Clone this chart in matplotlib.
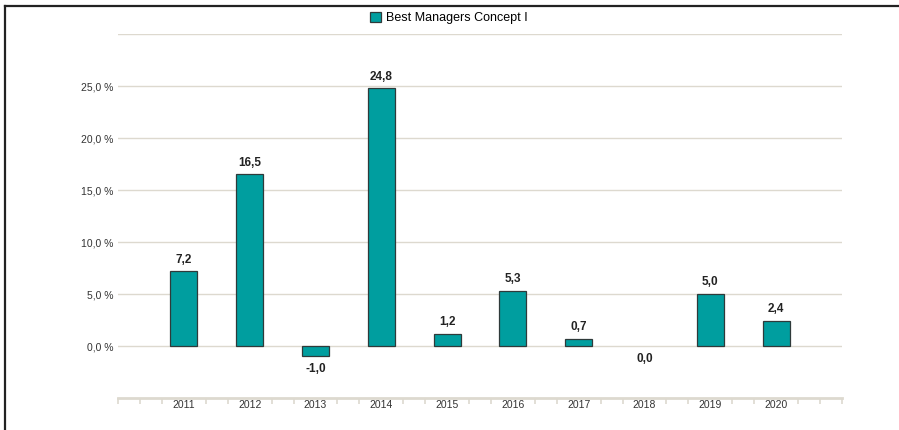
import matplotlib

matplotlib.use("Agg")
import matplotlib.pyplot as plt
from matplotlib.lines import Line2D
from matplotlib.patches import Patch

plt.rcParams["font.family"] = ["Liberation Sans", "DejaVu Sans"]

years = ["2011", "2012", "2013", "2014", "2015", "2016", "2017", "2018", "2019", "2020"]
returns = [7.2, 16.5, -1.0, 24.8, 1.2, 5.3, 0.7, 0.0, 5.0, 2.4]
series_name = "Best Managers Concept I"
y_ticks = [0, 5, 10, 15, 20, 25]

BAR = "#009E9F"
EDGE = "#2F3A3A"
GRID = "#DDD9CF"

fig = plt.figure(figsize=(8.99, 4.30), dpi=100)
ax = fig.add_axes([118 / 899, 1 - 398 / 430, (842 - 118) / 899, (398 - 34) / 430])

positions = list(range(1, len(years) + 1))
edges = [EDGE if v != 0 else "none" for v in returns]
ax.bar(positions, returns, width=0.41, color=BAR, edgecolor=edges, linewidth=0.9, zorder=3)

for x, v in zip(positions, returns):
    label = f"{v:.1f}".replace(".", ",")
    if v > 0:
        ax.annotate(label, (x, v), xytext=(0, 4), textcoords="offset points",
                    ha="center", va="bottom", fontsize=8.5, fontweight="bold", color="#222222")
    else:
        ax.annotate(label, (x, v), xytext=(0, -5), textcoords="offset points",
                    ha="center", va="top", fontsize=8.5, fontweight="bold", color="#222222")

ax.set_xlim(0, 11)
ax.set_ylim(-5, 30)
ax.set_yticks(y_ticks)
ax.set_yticklabels([f"{t:.1f} %".replace(".", ",") for t in y_ticks])
for t in y_ticks + [30]:
    ax.axhline(t, color=GRID, linewidth=1.0, zorder=1)

ax.set_xticks(positions)
ax.set_xticklabels(years)
minor = [i / 3 for i in range(0, 34) if i % 3 != 0 or i in (0, 33)]
ax.set_xticks(minor, minor=True)
ax.tick_params(axis="x", which="major", length=0, pad=1.5, labelsize=7.5, labelcolor="#333333")
ax.tick_params(axis="x", which="minor", length=4, width=1.2, color=GRID, direction="out")
ax.tick_params(axis="y", length=0, pad=3, labelsize=7.5, labelcolor="#333333")

for side in ("top", "right", "left"):
    ax.spines[side].set_visible(False)
ax.spines["bottom"].set_color(GRID)
ax.spines["bottom"].set_linewidth(2.0)

handle = Patch(facecolor=BAR, edgecolor=EDGE, linewidth=0.9)
fig.legend([handle], [series_name], loc="center", bbox_to_anchor=(449 / 899, 1 - 18 / 430),
           frameon=False, fontsize=9, handlelength=0.9, handleheight=0.9, handletextpad=0.4)

# outer frame lines (left and top)
fig.add_artist(Line2D([5 / 899, 5 / 899], [0, 1 - 6 / 430], transform=fig.transFigure,
                      color="#222222", linewidth=1.6))
fig.add_artist(Line2D([5 / 899, 1], [1 - 6 / 430, 1 - 6 / 430], transform=fig.transFigure,
                      color="#222222", linewidth=1.6))

fig.savefig("out.png", dpi=100, facecolor="white")
plt.close(fig)
